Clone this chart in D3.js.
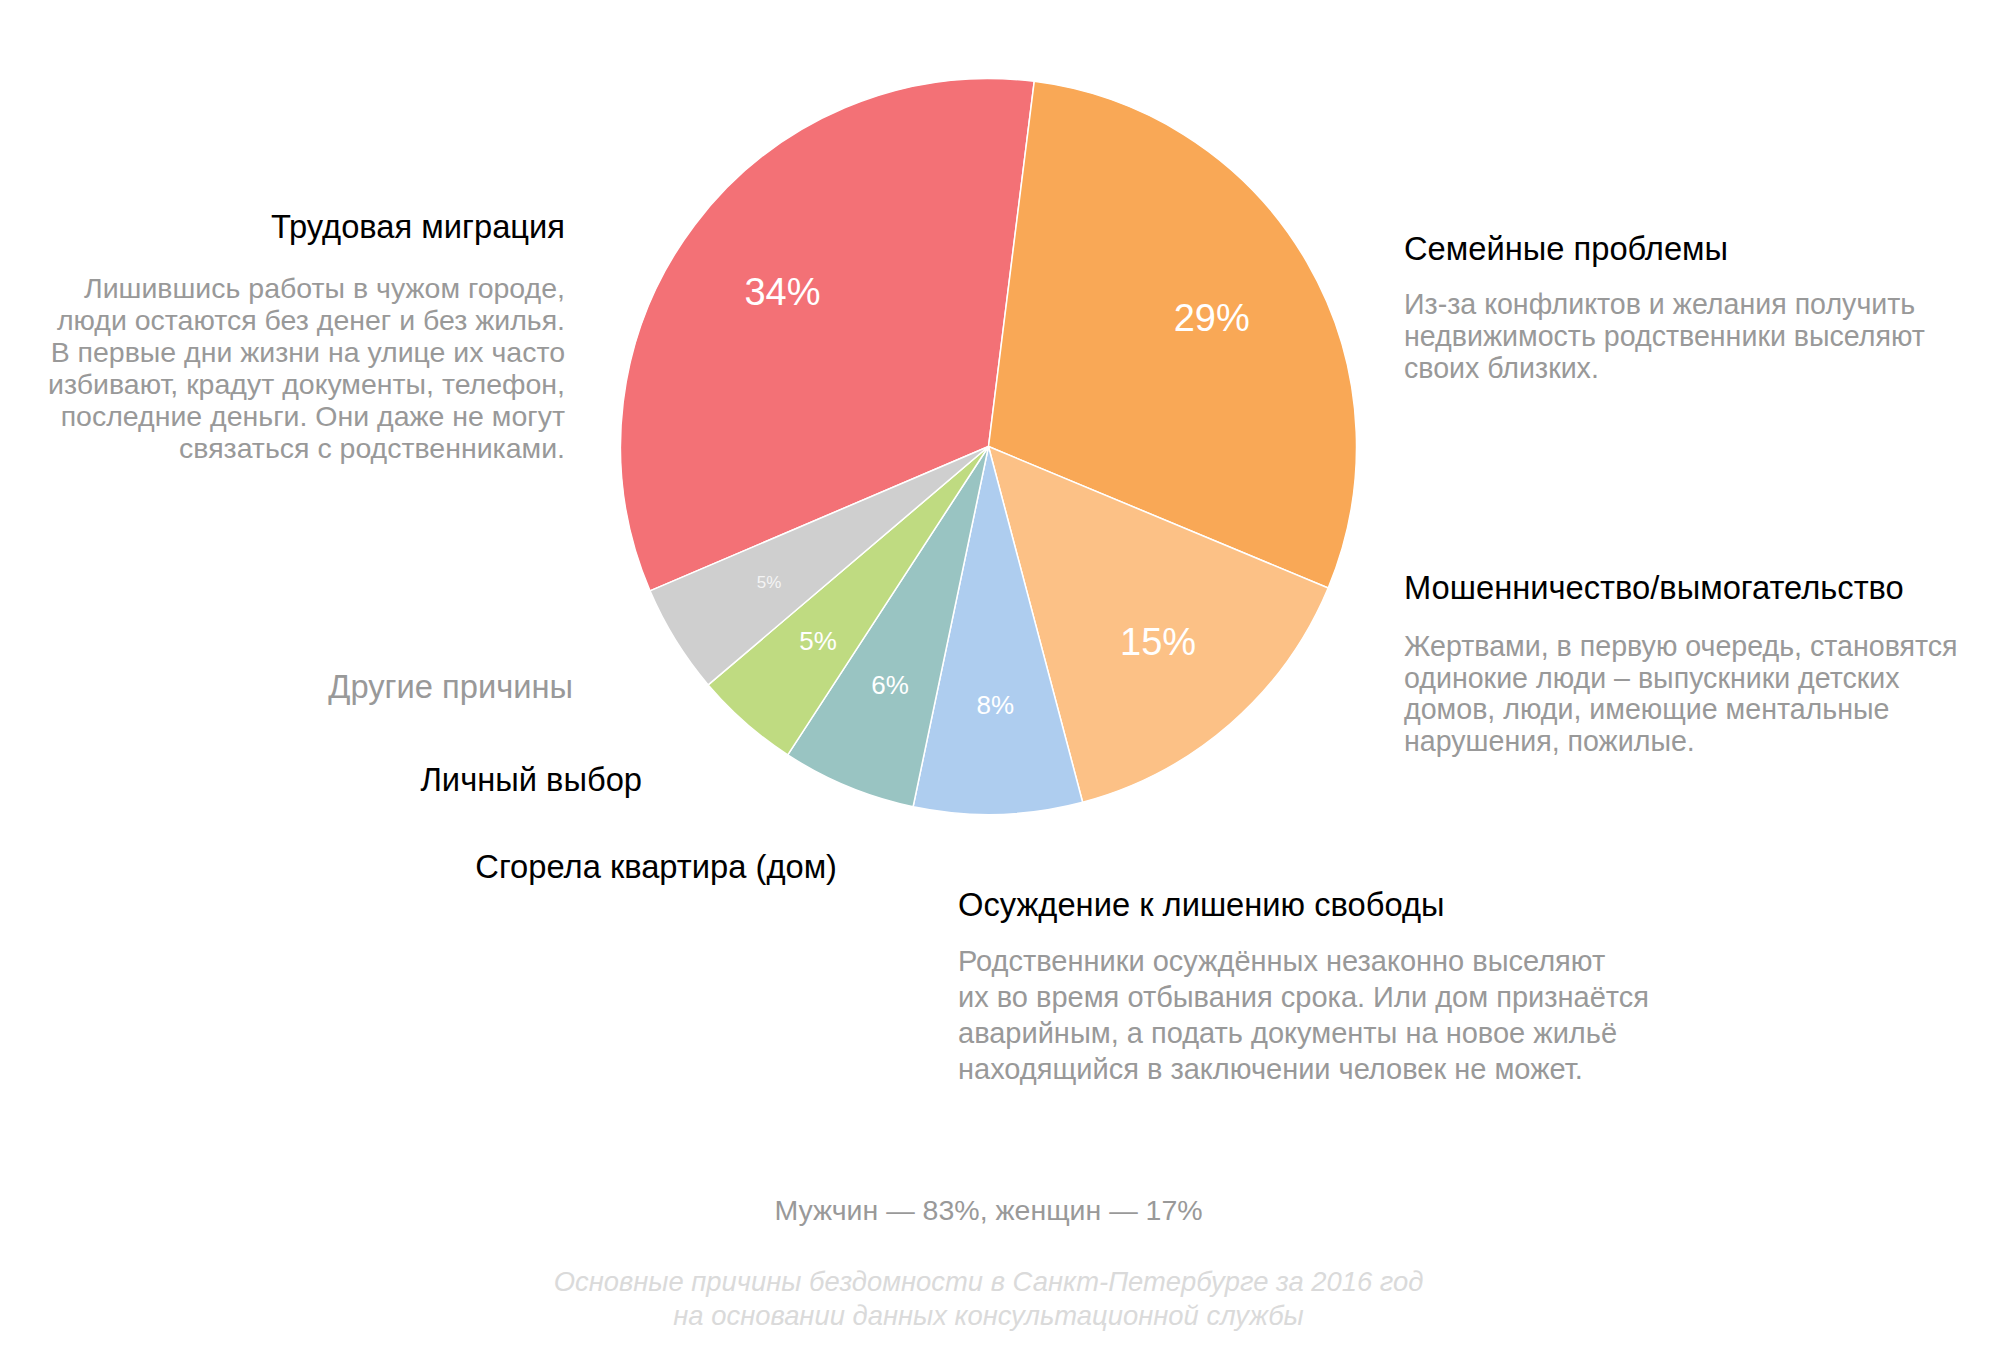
<!DOCTYPE html>
<html>
<head>
<meta charset="utf-8">
<script src="https://cdn.jsdelivr.net/npm/d3@7"></script>
<style>
  html, body { margin: 0; padding: 0; background: #ffffff; }
  svg { display: block; font-family: "Liberation Sans", Arial, Helvetica, sans-serif; }
</style>
</head>
<body>
<svg id="chart" width="2000" height="1370"></svg>
<script>
// ---- data ----
const categories = [
  "Трудовая миграция",
  "Семейные проблемы",
  "Мошенничество/вымогательство",
  "Осуждение к лишению свободы",
  "Сгорела квартира (дом)",
  "Личный выбор",
  "Другие причины"
];
const shares = [33.4, 29.3, 14.6, 7.4, 5.9, 4.6, 4.8];
// percentage labels as printed on the slices
const percentLabels = ["34%", "29%", "15%", "8%", "6%", "5%", "5%"];
const sliceColors = ["#f37176", "#f9a856", "#fcc186", "#aecdef", "#99c4c2", "#bfdb81", "#cfcfcf"];

const descMigration = [
  "Лишившись работы в чужом городе,",
  "люди остаются без денег и без жилья.",
  "В первые дни жизни на улице их часто",
  "избивают, крадут документы, телефон,",
  "последние деньги. Они даже не могут",
  "связаться с родственниками."
];
const descFamily = [
  "Из-за конфликтов и желания получить",
  "недвижимость родственники выселяют",
  "своих близких."
];
const descFraud = [
  "Жертвами, в первую очередь, становятся",
  "одинокие люди – выпускники детских",
  "домов, люди, имеющие ментальные",
  "нарушения, пожилые."
];
const descPrison = [
  "Родственники осуждённых незаконно выселяют",
  "их во время отбывания срока. Или дом признаётся",
  "аварийным, а подать документы на новое жильё",
  "находящийся в заключении человек не может."
];
const genderNote = "Мужчин — 83%, женщин — 17%";
const captionLines = [
  "Основные причины бездомности в Санкт-Петербурге за 2016 год",
  "на основании данных консультационной службы"
];

// ---- layout ----
const svg = d3.select("#chart");
const cx = 988.5, cy = 446.5, R = 368, labelR = 258;
const startDeg = -113.1;
const toRad = Math.PI / 180;

const pie = d3.pie().sort(null).value(d => d)
  .startAngle(startDeg * toRad)
  .endAngle(startDeg * toRad + 2 * Math.PI);
const arcs = pie(shares);
const arc = d3.arc().innerRadius(0).outerRadius(R);
const labelArc = d3.arc().innerRadius(labelR).outerRadius(labelR);
const color = d3.scaleOrdinal().domain(categories).range(sliceColors);

const g = svg.append("g").attr("transform", `translate(${cx},${cy})`);
g.selectAll("path.slice").data(arcs).enter().append("path")
  .attr("class", "slice")
  .attr("d", arc)
  .attr("fill", (d, i) => color(categories[i]))
  .attr("stroke", "#ffffff")
  .attr("stroke-width", 1.5)
  .attr("stroke-linejoin", "round");

g.selectAll("text.pct").data(arcs).enter().append("text")
  .attr("class", "pct")
  .attr("transform", d => `translate(${labelArc.centroid(d)})`)
  .attr("text-anchor", "middle")
  .attr("dy", "0.36em")
  .attr("fill", (d, i) => i === 6 ? "#f4f4f4" : "#ffffff")
  .attr("font-size", (d, i) => i === 6 ? 17 : (d.data >= 10 ? 38 : 26))
  .text((d, i) => percentLabels[i]);

// text blocks
const titleSize = 32.7;
function block(x, anchor, titleY, title, titleColor, lines, firstY, step, bodySize) {
  svg.append("text")
    .attr("x", x).attr("y", titleY)
    .attr("text-anchor", anchor)
    .attr("font-size", titleSize)
    .attr("fill", titleColor)
    .text(title);
  svg.selectAll(null).data(lines).enter().append("text")
    .attr("x", x).attr("y", (d, i) => firstY + i * step)
    .attr("text-anchor", anchor)
    .attr("font-size", bodySize)
    .attr("fill", "#999999")
    .text(d => d);
}
block(565, "end", 237.5, categories[0], "#000000", descMigration, 298, 32, 28.5);
block(1404, "start", 259.5, categories[1], "#000000", descFamily, 314, 32, 28.6);
block(1404, "start", 598.5, categories[2], "#000000", descFraud, 656, 31.5, 28.6);
block(958, "start", 915.5, categories[3], "#000000", descPrison, 970.5, 36, 29);

block(573, "end", 697.5, categories[6], "#999999", [], 0, 0, 28.5);
block(642, "end", 790.5, categories[5], "#000000", [], 0, 0, 28.5);
block(837, "end", 878, categories[4], "#000000", [], 0, 0, 28.5);

svg.append("text")
  .attr("x", cx).attr("y", 1219.5)
  .attr("text-anchor", "middle")
  .attr("font-size", 28.5)
  .attr("fill", "#999999")
  .text(genderNote);

svg.selectAll("text.caption").data(captionLines).enter().append("text")
  .attr("class", "caption")
  .attr("x", cx).attr("y", (d, i) => 1291 + i * 34)
  .attr("text-anchor", "middle")
  .attr("font-size", 27.4)
  .attr("font-style", "italic")
  .attr("fill", "#dadada")
  .text(d => d);
</script>
</body>
</html>
